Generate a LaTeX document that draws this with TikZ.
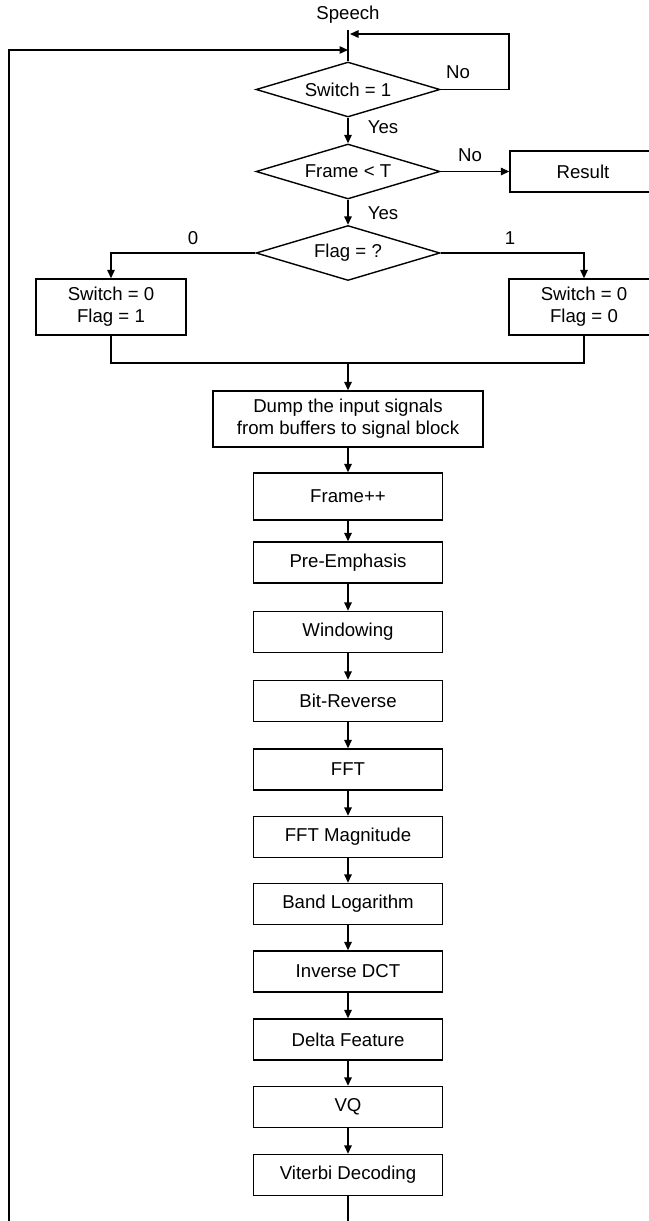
\documentclass[tikz,border=0pt]{standalone}
\usepackage{fontspec}
\setmainfont{Liberation Sans}
\usetikzlibrary{shapes.geometric,arrows.meta}

\begin{document}
\begin{tikzpicture}[x=0.02cm,y=-0.02cm,line width=0.8pt,
  every node/.style={font=\fontsize{10.6}{12.5}\selectfont},
  box/.style={draw,rectangle,minimum width=3.78cm,minimum height=0.82cm,inner sep=0pt,align=center},
  test/.style={draw,diamond,aspect=3.3,minimum width=3.68cm,minimum height=1.1cm,inner sep=0pt},
  flow/.style={-{Triangle[length=1.7mm,width=1.5mm]}}]
  \useasboundingbox (0,0) rectangle (649,1221); \clip (0,0) rectangle (649,1221);
  \coordinate (in1) at (348,50); \coordinate (in2) at (350,34); \coordinate (noturn) at (509,34);
  \coordinate (loopnw) at (9,50); \coordinate (loopsw) at (9,1221);
  \coordinate (merge) at (348,363); \coordinate (tail) at (348,1221);
  \node (speech) at (348,15) {Speech};
  \node[test] (sw) at (348,89.5) {Switch = 1};
  \node[test] (fr) at (348,171.5) {Frame < T};
  \node[test] (fl) at (348,253) {Flag = ?};
  \node[box,minimum width=2.92cm] (res) at (583,171.5) {Result};
  \node[box,minimum width=3cm,minimum height=1.12cm] (set0) at (111,307) {Switch = 0\\Flag = 1};
  \node[box,minimum width=3cm,minimum height=1.12cm] (set1) at (584,307) {Switch = 0\\Flag = 0};
  \node[box,minimum width=5.4cm,minimum height=1.12cm] (dump) at (348,419) {Dump the input signals\\from buffers to signal block};
  \node[box,minimum height=0.94cm] (fpp) at (348,496.5) {Frame++};
  \node[box] (pre) at (348,562.5) {Pre-Emphasis};
  \node[box] (win) at (348,632) {Windowing};
  \node[box] (bit) at (348,701) {Bit-Reverse};
  \node[box] (fft) at (348,769.5) {FFT};
  \node[box] (mag) at (348,837) {FFT Magnitude};
  \node[box] (blog) at (348,904) {Band Logarithm};
  \node[box] (idct) at (348,971.5) {Inverse DCT};
  \node[box] (delta) at (348,1039.5) {Delta Feature};
  \node[box] (vq) at (348,1107) {VQ};
  \node[box] (vit) at (348,1175) {Viterbi Decoding};
  % branch labels
  \node (no1) at (458,72) {No}; \node (yes1) at (383,127) {Yes};
  \node (no2) at (470,155) {No}; \node (yes2) at (383,213) {Yes};
  \node (zero) at (193,238) {0}; \node (one) at (510,238) {1};
  % connectors
  \draw (speech) -- (sw.north);
  \draw[flow] (sw.east) -| (noturn) -- (in2);
  \draw[flow] (loopsw) -- (loopnw) -- (in1);
  \draw[flow] (sw.south) -- (fr.north); \draw[flow] (fr.east) -- (res.west);
  \draw[flow] (fr.south) -- (fl.north);
  \draw[flow] (fl.west) -| (set0.north); \draw[flow] (fl.east) -| (set1.north);
  \draw (set0.south) |- (merge) -| (set1.south);
  \draw[flow] (merge) -- (dump.north);
  \draw[flow] (dump) -- (fpp); \draw[flow] (fpp) -- (pre); \draw[flow] (pre) -- (win);
  \draw[flow] (win) -- (bit); \draw[flow] (bit) -- (fft); \draw[flow] (fft) -- (mag);
  \draw[flow] (mag) -- (blog); \draw[flow] (blog) -- (idct); \draw[flow] (idct) -- (delta);
  \draw[flow] (delta) -- (vq); \draw[flow] (vq) -- (vit);
  \draw (vit) -- (tail);
\end{tikzpicture}
\end{document}
